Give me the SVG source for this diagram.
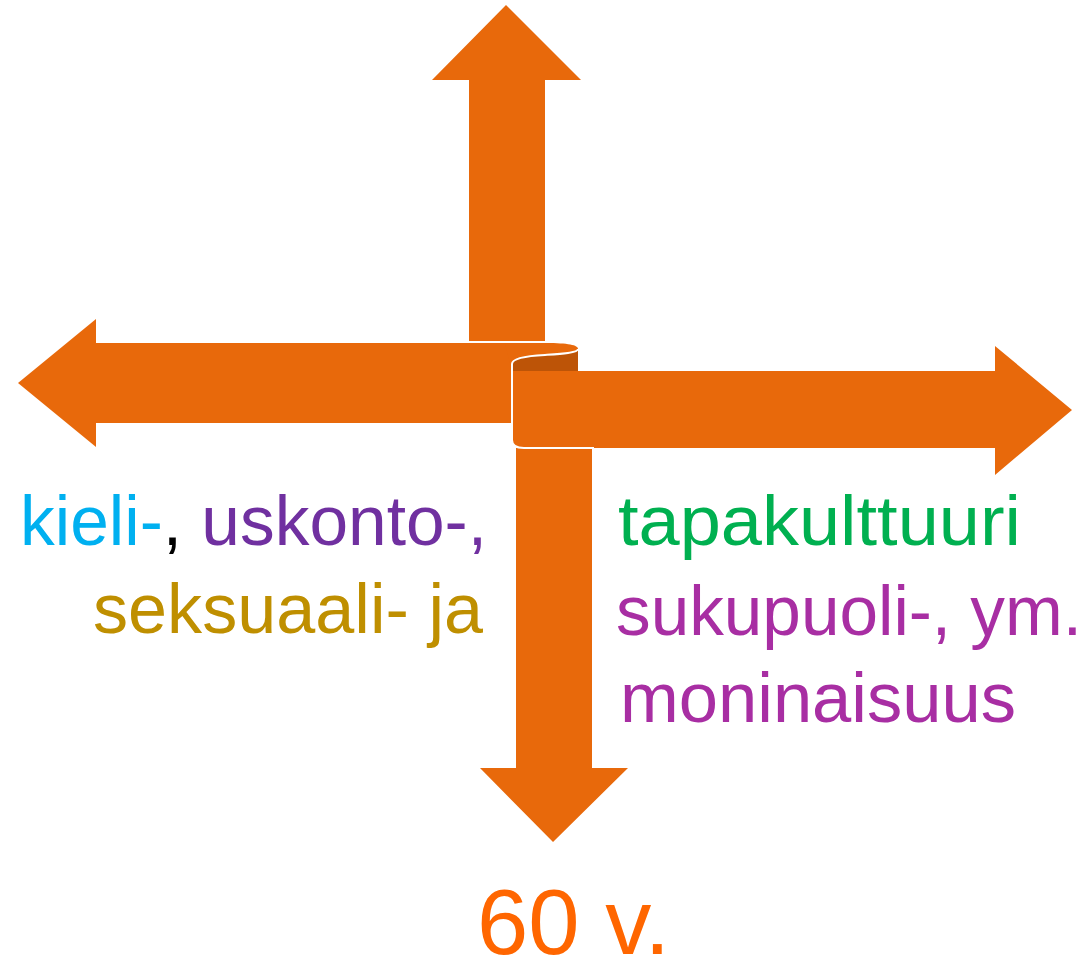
<svg xmlns="http://www.w3.org/2000/svg" width="1089" height="960" viewBox="0 0 1089 960">
<style>
.arr{fill:#e8690b}
.dark{fill:#bd5407}
.edge{fill:none;stroke:#ffffff;stroke-width:2}
.t{font-family:"Liberation Sans",Arial,sans-serif;font-size:70px}
</style>
<rect width="1089" height="960" fill="#ffffff"/>
<g id="arrow-up"><polygon class="arr" points="506,5 581,80 545,80 545,341 469,341 469,80 432,80"/></g>
<g id="arrow-left"><polygon class="arr" points="18,383 96,319 96,343 512,343 512,423 96,423 96,447"/></g>
<g id="curl-top"><path class="arr" d="M505,343 L546,343 C568,343 578,345 578,349 L578,371 L512,371 Z"/></g>
<g id="arrow-down"><polygon class="arr" points="516,448 592,448 592,768 628,768 553,842 480,768 516,768"/></g>
<g id="arrow-right"><path class="arr" d="M512,364 L512,440 Q512,448 524,448 L995,448 L995,475 L1072,410 L995,346 L995,371 L578,371 L578,349 Z"/></g>
<g id="curl-inner"><path class="dark" d="M578,349 C578,353 560,354 545,355 C525,356 512,359 512,364 L512,371 L578,371 Z"/></g>
<g id="curl-edge"><path class="edge" d="M578,349 C578,353 560,354 545,355 C525,356 512,359 512,364 L512,440 Q512,448 524,448 L594,448"/></g>
<g id="label-left">
<text class="t" x="487" y="545" text-anchor="end" textLength="467" lengthAdjust="spacingAndGlyphs"><tspan fill="#00b0f0">kieli-</tspan><tspan fill="#000000">,</tspan><tspan fill="#7030a0"> uskonto-,</tspan></text>
<text class="t" x="483" y="633" text-anchor="end" fill="#bf8f00" textLength="390" lengthAdjust="spacingAndGlyphs">seksuaali- ja</text>
</g>
<g id="label-right">
<text class="t" x="618" y="545" fill="#00b050" textLength="403" lengthAdjust="spacingAndGlyphs">tapakulttuuri</text>
<text class="t" x="616" y="635" fill="#a82ea3" textLength="466" lengthAdjust="spacingAndGlyphs">sukupuoli-, ym.</text>
<text class="t" x="620" y="722" fill="#a82ea3" textLength="396" lengthAdjust="spacingAndGlyphs">moninaisuus</text>
</g>
<g id="label-bottom"><text x="477" y="954" font-family="Liberation Sans,Arial,sans-serif" font-size="92" fill="#ff6600" textLength="193" lengthAdjust="spacingAndGlyphs">60 v.</text></g>
</svg>
